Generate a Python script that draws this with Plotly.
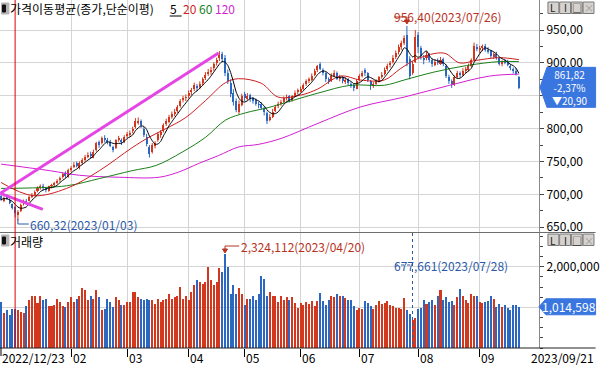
import pandas as pd
import plotly.graph_objects as go

# ---------------- data ----------------
HOLIDAYS = ["2022-12-30", "2023-01-23", "2023-01-24", "2023-03-01", "2023-05-01",
            "2023-05-05", "2023-05-29", "2023-06-06", "2023-08-15"]
dates = [d for d in pd.bdate_range("2022-12-23", "2023-09-21")
         if d.strftime("%Y-%m-%d") not in HOLIDAYS]

open_ = [697, 690, 697, 692, 685, 680, 669, 675, 686, 690,
         690, 697, 699, 705, 711, 713, 710, 705, 713, 715,
         718, 722, 727, 733, 727, 738, 742, 747, 740, 749,
         753, 758, 762, 756, 767, 779, 778, 786, 783, 780,
         772, 770, 783, 782, 779, 790, 791, 796, 802, 810,
         811, 800, 788, 772, 765, 774, 782, 790, 796, 807,
         810, 819, 823, 827, 835, 844, 847, 850, 856, 860,
         865, 864, 870, 877, 884, 887, 892, 900, 907, 913,
         908, 884, 870, 855, 842, 826, 836, 852, 845, 851,
         846, 843, 837, 838, 831, 824, 813, 817, 827, 834,
         839, 841, 847, 849, 843, 850, 856, 857, 861, 868,
         873, 874, 882, 889, 899, 890, 884, 875, 873, 881,
         885, 875, 878, 871, 875, 868, 867, 861, 874, 881,
         890, 884, 872, 865, 869, 873, 879, 883, 891, 897,
         901, 909, 916, 925, 931, 942, 906, 884, 902, 942,
         922, 908, 907, 913, 904, 897, 903, 899, 906, 896,
         879, 873, 866, 879, 885, 881, 889, 889, 896, 905,
         925, 920, 924, 926, 919, 918, 909, 914, 907, 898,
         903, 901, 896, 891, 887, 878]
high = [699, 697, 700, 694, 686, 682, 676, 686, 692, 693,
        698, 702, 706, 712, 715, 716, 711, 713, 716, 719,
        723, 727, 733, 735, 739, 743, 749, 750, 750, 755,
        760, 764, 765, 768, 780, 782, 788, 790, 786, 783,
        774, 784, 789, 785, 790, 795, 797, 803, 816, 817,
        814, 803, 792, 775, 778, 781, 795, 798, 808, 815,
        821, 826, 830, 836, 845, 850, 852, 858, 862, 870,
        868, 872, 878, 886, 891, 894, 901, 908, 918, 917,
        912, 890, 875, 860, 846, 843, 853, 856, 854, 853,
        848, 846, 841, 840, 834, 826, 822, 830, 836, 841,
        844, 849, 852, 851, 851, 858, 861, 864, 869, 875,
        878, 884, 891, 897, 901, 892, 886, 878, 884, 889,
        887, 882, 880, 878, 877, 871, 868, 875, 883, 888,
        892, 886, 874, 871, 875, 880, 886, 893, 899, 903,
        912, 919, 928, 934, 942, 956.40, 910, 903, 950, 947,
        926, 912, 918, 915, 907, 906, 907, 909, 908, 898,
        882, 875, 881, 888, 887, 892, 894, 899, 907, 931,
        929, 926, 928, 929, 924, 920, 916, 917, 909, 904,
        906, 905, 898, 893, 892, 880]
low = [690, 688, 692, 685, 677, 665, 660.32, 673, 683, 684,
       689, 694, 697, 703, 707, 706, 703, 704, 709, 712,
       716, 719, 724, 725, 725, 734, 740, 741, 738, 745,
       750, 755, 754, 755, 765, 771, 776, 779, 776, 772,
       764, 769, 780, 775, 778, 786, 788, 793, 800, 806,
       801, 787, 773, 756, 762, 770, 780, 786, 794, 804,
       808, 815, 819, 824, 832, 840, 842, 846, 851, 857,
       857, 860, 866, 874, 880, 882, 888, 896, 903, 901,
       880, 868, 848, 835, 825, 822, 834, 842, 843, 841,
       838, 835, 831, 829, 820, 807, 811, 816, 825, 831,
       835, 839, 843, 840, 841, 848, 852, 855, 859, 865,
       869, 872, 880, 886, 889, 881, 871, 868, 871, 879,
       874, 872, 869, 868, 866, 862, 857, 860, 872, 878,
       880, 871, 859, 862, 866, 870, 876, 881, 888, 893,
       899, 906, 913, 920, 927, 895, 875, 882, 900, 915,
       905, 898, 904, 901, 894, 895, 897, 897, 895, 877,
       868, 862, 865, 876, 878, 880, 884, 887, 894, 903,
       918, 915, 918, 917, 914, 907, 906, 905, 896, 895,
       898, 895, 889, 884, 881, 860]
close = [692, 695, 693, 687, 679, 671, 673, 684, 689, 687,
         696, 699, 704, 710, 711, 709, 706, 712, 714, 716,
         721, 725, 731, 728, 737, 740, 744, 743, 748, 752,
         757, 760, 758, 765, 778, 776, 785, 782, 779, 774,
         768, 782, 785, 780, 788, 790, 794, 800, 812, 810,
         805, 790, 776, 762, 775, 778, 792, 795, 805, 812,
         818, 822, 826, 833, 842, 846, 848, 854, 858, 866,
         862, 868, 875, 882, 886, 890, 898, 905, 912, 906,
         885, 873, 852, 840, 828, 838, 850, 846, 850, 845,
         842, 838, 836, 832, 825, 812, 818, 826, 833, 838,
         840, 846, 848, 844, 849, 855, 858, 860, 866, 872,
         875, 880, 888, 895, 891, 885, 876, 872, 880, 884,
         876, 879, 872, 874, 869, 866, 862, 872, 880, 884,
         885, 874, 866, 868, 872, 878, 882, 890, 896, 900,
         908, 915, 924, 930, 938, 900, 880, 898, 940, 925,
         910, 905, 912, 905, 898, 902, 900, 905, 898, 880,
         872, 868, 878, 884, 882, 888, 890, 895, 904, 926,
         921, 923, 925, 920, 917, 910, 913, 908, 899, 902,
         900, 897, 892, 888, 882.72, 861.82]
volume_mil = [1.13, 0.85, 0.93, 0.80, 0.97, 0.95, 0.93, 0.88, 0.85, 1.03,
              1.17, 1.27, 1.27, 1.10, 1.27, 1.17, 1.20, 1.03, 1.03, 1.05,
              1.20, 1.13, 1.03, 1.00, 1.13, 1.25, 1.13, 1.20, 1.28, 1.47,
              1.43, 1.17, 1.28, 1.20, 1.43, 1.25, 0.93, 0.97, 1.20, 1.13,
              1.00, 1.25, 1.17, 1.05, 1.05, 1.13, 1.13, 1.38, 1.38, 1.25,
              1.20, 1.17, 1.20, 1.17, 1.17, 1.08, 1.20, 1.13, 1.17, 1.20,
              1.33, 1.20, 1.25, 1.28, 1.50, 1.20, 1.28, 1.17, 1.38, 1.55,
              1.67, 1.63, 1.58, 1.63, 2.00, 1.67, 1.55, 1.63, 1.97, 1.88,
              2.324112, 2.00, 1.33, 1.55, 1.33, 1.47, 1.33, 1.05, 1.20, 1.20,
              1.28, 1.17, 1.33, 1.78, 1.70, 1.27, 1.38, 1.28, 1.28,
              1.13, 1.28, 1.17, 1.25, 1.17, 1.25, 1.10, 0.98, 1.10, 1.07,
              1.13, 1.08, 1.15, 1.03, 1.15, 1.35, 1.15, 1.05, 1.17, 1.28,
              1.25, 1.33, 1.28, 1.27, 1.23, 1.18, 1.18, 1.03, 0.93, 0.98,
              0.95, 1.15, 1.10, 1.03, 0.95, 1.07, 1.15, 1.08, 1.10, 1.15,
              1.05, 1.03, 0.98, 0.98, 0.95, 1.23, 0.93, 0.83, 0.677661, 0.75,
              0.97, 0.98, 1.17, 1.08, 1.13, 1.17, 1.05, 1.27, 1.43, 1.17,
              1.25, 1.13, 1.15, 1.07, 1.25, 1.45, 1.28, 1.17, 1.10, 1.32,
              1.28, 1.28, 1.13, 1.10, 1.13, 1.15, 1.28, 1.20, 1.00, 1.08,
              1.00, 1.05, 0.98, 0.93, 1.07, 1.05, 1.014598]

# moving averages (index, value)
ma20_idx = [0, 11.4, 23.4, 35.1, 46.8, 52.9, 58.9, 66, 73.1, 80.2, 84.8, 93, 99, 107, 113,
            121.3, 128.4, 136.9, 142.6, 148.6, 158.2, 163.9, 169.9, 178, 185]
ma20_val = [718, 698, 709, 736, 771, 787, 800, 817, 843, 870, 876, 869, 848, 851, 860,
            880, 874, 874, 891, 906, 915, 900, 904, 908, 905]
ma60_idx = [0, 23.4, 35.1, 46.8, 55.4, 64.6, 73.1, 80.2, 87.3, 95.4, 113.2, 124.9, 136.9,
            144, 154.6, 166.3, 178, 185]
ma60_val = [709, 713, 724, 736, 744, 764, 787, 813, 824, 832, 854, 866, 866,
            874, 886, 896, 902, 902]
ma120_idx = [0, 17.4, 28, 42.2, 56.4, 63.5, 70.6, 77.7, 84.8, 91.9, 100, 113.2, 128.4,
             144, 160.3, 174.5, 185]
ma120_val = [746, 736, 729, 726, 726, 734, 747, 759, 772, 776, 785, 808, 833,
             848, 866, 880, 883]

# drawn trend lines (index, price)
trend_up_x = [-0.3, 77.7]
trend_up_y = [701.5, 915.0]
trend_dn_x = [-0.3, 14.9]
trend_dn_y = [701.5, 677.0]

price_ticks = [650, 700, 750, 800, 850, 900, 950]
# 850 label is hidden behind the current-price box in the original
price_ticktext = ["650,00", "700,00", "750,00", "800,00", "", "900,00", "950,00"]

# ---------------- styling ----------------
RED = "#d2381e"
BLUE = "#2c68c2"
MA5_C = "#000000"
MA20_C = "#cc1f1f"
MA60_C = "#1a7f1a"
MA120_C = "#d21fd2"
TREND_C = "#e445e4"
GRID = "#d4d4d4"
BOX = "#3a76df"
ANN_RED = "#b8321e"
ANN_BLUE = "#2c5aa8"
FONT = "Noto Sans CJK KR"

W, H = 543.0, 348.0
XR = (-0.4, 192.2)
Y1R = (641.9, 995.8)
Y2R = (0, 2.83e6)


def xpix(i):
    return (i - XR[0]) * W / (XR[1] - XR[0])


def px(x):
    return x / W


def py(y):
    return 1 - y / H


n = len(close)
xi = list(range(n))
volume = [v * 1e6 for v in volume_mil]
ma5 = pd.Series(close).rolling(5, min_periods=1).mean().tolist()
up = [i for i in xi if close[i] >= open_[i]]
dn = [i for i in xi if close[i] < open_[i]]

fig = go.Figure()


def wicks(idx):
    xs, ys = [], []
    for i in idx:
        xs += [i, i, None]
        ys += [low[i], high[i], None]
    return xs, ys


for idx, col in ((up, RED), (dn, BLUE)):
    wx, wy = wicks(idx)
    fig.add_trace(go.Scatter(x=wx, y=wy, mode="lines", line=dict(color=col, width=1),
                             hoverinfo="skip", yaxis="y"))
    fig.add_trace(go.Bar(x=idx,
                         y=[max(abs(close[i] - open_[i]), 0.6) for i in idx],
                         base=[min(close[i], open_[i]) for i in idx],
                         width=0.72, marker=dict(color=col, line=dict(width=0)), yaxis="y"))
    fig.add_trace(go.Bar(x=idx, y=[volume[i] for i in idx], width=0.72,
                         marker=dict(color=col, line=dict(width=0)), yaxis="y2"))

fig.add_trace(go.Scatter(x=ma120_idx, y=ma120_val, mode="lines", line=dict(color=MA120_C, width=1, shape="spline"), yaxis="y"))
fig.add_trace(go.Scatter(x=ma60_idx, y=ma60_val, mode="lines", line=dict(color=MA60_C, width=1, shape="spline"), yaxis="y"))
fig.add_trace(go.Scatter(x=ma20_idx, y=ma20_val, mode="lines", line=dict(color=MA20_C, width=1, shape="spline"), yaxis="y"))
fig.add_trace(go.Scatter(x=xi, y=ma5, mode="lines", line=dict(color=MA5_C, width=1, shape="spline", smoothing=0.6), yaxis="y"))
fig.add_trace(go.Scatter(x=trend_up_x, y=trend_up_y, mode="lines", line=dict(color=TREND_C, width=3), yaxis="y"))
fig.add_trace(go.Scatter(x=trend_dn_x, y=trend_dn_y, mode="lines", line=dict(color=TREND_C, width=3), yaxis="y"))

month_idx = []
for k in range(1, n):
    if dates[k].month != dates[k - 1].month and dates[k].month != 1:
        month_idx.append(k)
year_idx = [k for k in range(1, n) if dates[k].year != dates[k - 1].year][0]

shapes = []
ann = []


def line(x0, y0, x1, y1, color, width=1, dash=None):
    d = dict(type="line", xref="paper", yref="paper", x0=px(x0), y0=py(y0), x1=px(x1), y1=py(y1),
             line=dict(color=color, width=width), layer="above")
    if dash:
        d["line"]["dash"] = dash
    shapes.append(d)


def poly(points, fill, lc=None):
    path = "M " + " L ".join(f"{px(a)},{py(b)}" for a, b in points) + " Z"
    shapes.append(dict(type="path", xref="paper", yref="paper", path=path, fillcolor=fill,
                       line=dict(color=lc or fill, width=1), layer="above"))


def rect(x0, y0, x1, y1, fill, lc=None, lw=1):
    shapes.append(dict(type="rect", xref="paper", yref="paper", x0=px(x0), y0=py(y0),
                       x1=px(x1), y1=py(y1), fillcolor=fill,
                       line=dict(color=lc or fill, width=lw), layer="above"))


def txt(x, y, s, color="black", size=12, xanchor="left"):
    ann.append(dict(x=px(x), y=py(y), xref="paper", yref="paper", text=s, showarrow=False,
                    xanchor=xanchor, yanchor="middle", borderpad=0,
                    font=dict(color=color, size=size, family=FONT)))


# panel separators
line(0, 232.5, 600, 232.5, "#6e6e6e", 1)
line(0, 348, 600, 348, "#202020", 1)
# year boundary line
xy = xpix(year_idx)
line(xy, 0, xy, 348, "#e00000", 1)

# header
rect(1.5, 3, 9, 14, "#b4b4b4")
rect(2.5, 5, 5.5, 12, "#111111")
txt(9, 9, "가격이동평균(종가,단순이평)")
txt(170, 9, "5")
line(171, 16, 183, 16, "black", 1)
txt(183, 9, "20", MA20_C)
txt(199, 9, "60", MA60_C)
txt(216, 9, "120", MA120_C)
rect(1.5, 235, 9, 246, "#b4b4b4")
rect(2.5, 237, 5.5, 244, "#111111")
txt(9, 241, "거래량")

# max price annotation
i_max = max(xi, key=lambda i: high[i])
xm = xpix(i_max)
txt(396, 17, "956,40(2023/07/26)", ANN_RED)
line(397, 17, xm, 17, ANN_RED)
line(xm, 17, xm, 22, ANN_RED)
poly([(xm - 2.5, 20), (xm + 2.5, 20), (xm, 24)], ANN_RED)

# min price annotation
i_min = min(xi, key=lambda i: low[i])
xl = xpix(i_min)
line(xl, 219, xl, 224, ANN_BLUE)
line(xl, 224, 29, 224, ANN_BLUE)
txt(29, 224, "660,32(2023/01/03)", ANN_BLUE)

# volume max annotation
i_vmax = max(xi, key=lambda i: volume[i])
xv = xpix(i_vmax)
line(xv, 246, 241, 246, ANN_RED)
line(xv, 246, xv, 251, ANN_RED)
poly([(xv - 2.5, 249), (xv + 2.5, 249), (xv, 253)], ANN_RED)
txt(242, 246, "2,324,112(2023/04/20)", ANN_RED)

# volume min annotation
i_vmin = min(xi, key=lambda i: volume[i])
xn = xpix(i_vmin)
txt(396, 265, "677,661(2023/07/28)", ANN_BLUE)
line(398, 265, xn, 265, ANN_BLUE, 1, "dot")
line(xn, 233, xn, 348, ANN_BLUE, 1, "dot")

# x axis labels
txt(1, 357, "2022/12/23")
line(1, 348, 1, 356, "black")
for k in month_idx:
    txt(xpix(k) + 0.5, 357, f"{dates[k].month:02d}")
txt(599, 357, dates[-1].strftime("%Y/%m/%d"), xanchor="right")

# current value boxes
last = close[-1]
prev = close[-2]
ylast = (Y1R[1] - last) / (Y1R[1] - Y1R[0]) * 232 - 0.5
poly([(544, ylast), (551, ylast - 20), (600, ylast - 20), (600, ylast + 20), (551, ylast + 20)], BOX)
box_text = "<br>".join([
    f"{last:.2f}".replace(".", ","),
    f"-{(prev - last) / prev * 100:.2f}%".replace(".", ","),
    "▼" + f"{prev - last:.2f}".replace(".", ","),
])
txt(574, ylast + 0.5, box_text, "white", 10, "center")

vlast = volume[-1]
yv = 233 + (Y2R[1] - vlast) / (Y2R[1] - Y2R[0]) * 115
poly([(543, yv), (550, yv - 8), (600, yv - 8), (600, yv + 8), (550, yv + 8)], BOX)
txt(573, yv, f"{vlast:,.0f}", "white", 12, "center")

# window buttons
for top in (2, 234):
    glyphs = ["L", "I", "□", "×"]
    for b in range(4):
        x0 = 552 + b * 11.8
        rect(x0, top, x0 + 11, top + 11.5, "#d6d3ce", "#7a7a7a", 1)
        txt(x0 + 5.5, top + 6, glyphs[b], "#222222" if b < 3 else "#9a9a9a", 10, "center")

fig.update_layout(
    width=600, height=366,
    margin=dict(l=0, r=57, t=0, b=18, pad=0),
    paper_bgcolor="white", plot_bgcolor="white",
    showlegend=False, barmode="overlay", bargap=0,
    font=dict(family=FONT, size=12, color="black"),
    xaxis=dict(domain=[0, 1], range=list(XR), anchor="y2", tickvals=month_idx,
               ticks="outside", ticklen=8, tickcolor="black", showticklabels=False,
               showgrid=True, gridcolor=GRID, gridwidth=1, showline=False, zeroline=False),
    yaxis=dict(domain=[py(232.5), 1], range=list(Y1R), side="right", anchor="x",
               tickvals=price_ticks, ticktext=price_ticktext, ticks="outside", ticklen=4,
               tickcolor="#444444", showline=True, linecolor="#8a8a8a", gridcolor=GRID,
               zeroline=False, tickfont=dict(size=12),
               minor=dict(dtick=25, tick0=0, ticklen=3, tickcolor="#444444", showgrid=False)),
    yaxis2=dict(domain=[0, py(233)], range=list(Y2R), side="right", anchor="x",
                tickvals=[1e6, 2e6], ticktext=["", "2,000,000"], ticks="outside", ticklen=4,
                tickcolor="#444444", showline=True, linecolor="#8a8a8a", gridcolor=GRID,
                zeroline=False, tickfont=dict(size=12),
                minor=dict(dtick=250000, tick0=0, ticklen=3, tickcolor="#444444", showgrid=False)),
    shapes=shapes, annotations=ann,
)

fig.write_html("out.html", config={"displayModeBar": False},
               post_script="document.body.style.margin='0';document.body.style.overflow='hidden';")
